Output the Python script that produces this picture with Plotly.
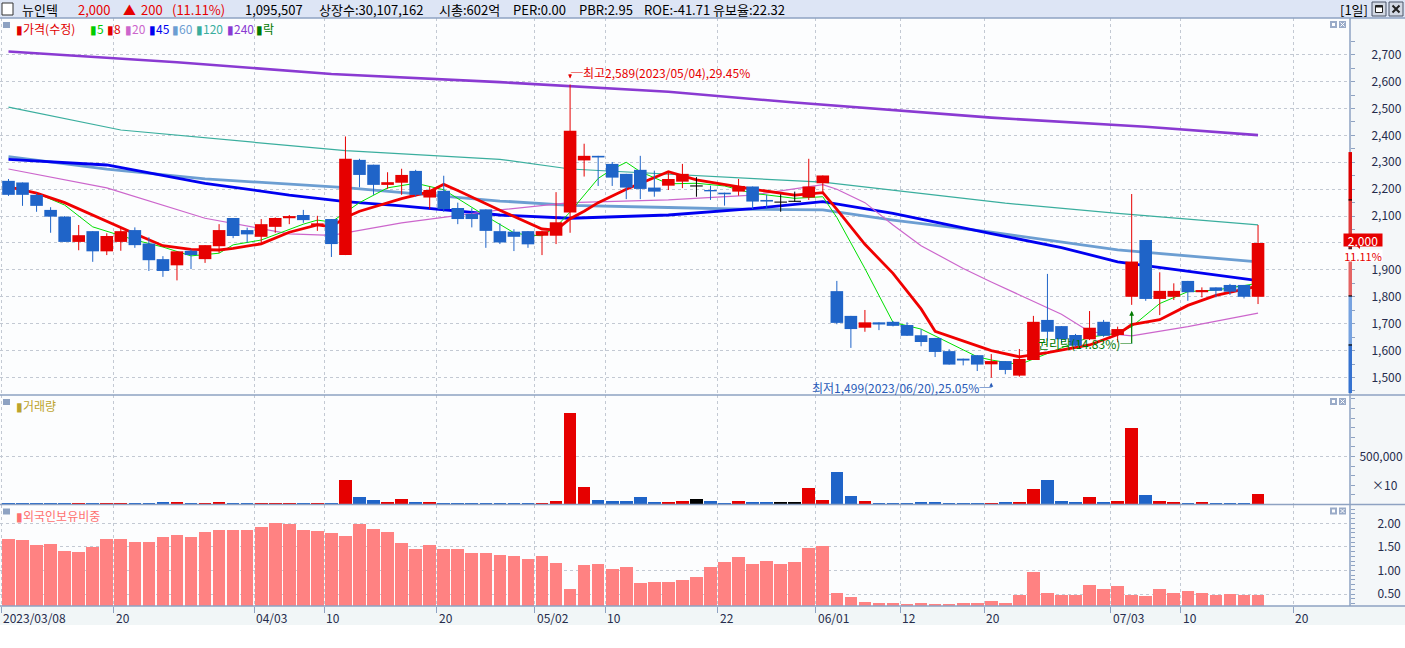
import pandas as pd
import plotly.graph_objects as go
from plotly.subplots import make_subplots

# 거래일 (휴장일 제외)
holidays = ["2023-05-01", "2023-05-05", "2023-05-29", "2023-06-06"]
dates = [d for d in pd.bdate_range("2023-03-08", "2023-07-17").strftime("%Y-%m-%d") if d not in holidays]
future_dates = list(pd.bdate_range("2023-07-18", "2023-07-26").strftime("%Y-%m-%d"))
all_dates = dates + future_dates

# 일봉 (수정주가)
opens = [2231, 2225, 2179, 2123, 2098, 2004, 2044, 1969, 2004, 2048,
         1998, 1940, 1917, 1971, 1940, 1988, 2093, 2048, 2023, 2060,
         2092, 2104, 2064, 2089, 1955, 2309, 2291, 2216, 2224, 2268,
         2169, 2194, 2130, 2108, 2125, 2044, 2042, 2044, 2027, 2027,
         2113, 2307, 2324, 2294, 2257, 2272, 2206, 2213, 2228, 2212,
         2197, 2187, 2191, 2210, 2160, 2152, 2155, 2169, 2222, 1821,
         1729, 1685, 1705, 1707, 1695, 1657, 1647, 1598, 1570, 1583,
         1549, 1561, 1507, 1565, 1714, 1691, 1658, 1642, 1707, 1658,
         1800, 2011, 1792, 1800, 1859, 1817, 1835, 1844, 1844, 1800]
highs = [2238, 2225, 2185, 2133, 2100, 2067, 2044, 2036, 2058, 2058,
         2021, 1951, 1969, 1976, 1992, 2070, 2093, 2057, 2089, 2095,
         2104, 2123, 2101, 2089, 2396, 2313, 2291, 2263, 2276, 2272,
         2210, 2250, 2150, 2129, 2125, 2073, 2051, 2044, 2044, 2189,
         2589, 2369, 2324, 2301, 2257, 2324, 2269, 2260, 2294, 2245,
         2213, 2187, 2238, 2210, 2179, 2181, 2191, 2313, 2251, 1859,
         1729, 1751, 1705, 1710, 1705, 1679, 1647, 1605, 1570, 1583,
         1587, 1561, 1606, 1729, 1885, 1691, 1662, 1747, 1714, 1689,
         2182, 2011, 1891, 1850, 1859, 1835, 1835, 1848, 1844, 2067]
lows = [2175, 2138, 2116, 2038, 2004, 1973, 1930, 1955, 1971, 1982,
        1896, 1874, 1861, 1903, 1926, 1963, 2018, 2001, 2001, 2038,
        2070, 2075, 2045, 1948, 1955, 2207, 2179, 2201, 2179, 2172,
        2126, 2116, 2070, 2058, 1982, 1996, 1970, 1982, 1955, 1996,
        2038, 2247, 2212, 2212, 2163, 2163, 2172, 2197, 2204, 2172,
        2160, 2139, 2176, 2126, 2126, 2116, 2154, 2160, 2185, 1698,
        1610, 1670, 1676, 1690, 1655, 1616, 1576, 1548, 1545, 1524,
        1499, 1512, 1503, 1565, 1637, 1628, 1614, 1639, 1651, 1631,
        1770, 1785, 1732, 1788, 1785, 1798, 1798, 1807, 1794, 1773]
closes = [2179, 2179, 2138, 2098, 2004, 2029, 1969, 2026, 2044, 1992,
          1936, 1896, 1969, 1955, 1992, 2048, 2026, 2032, 2070, 2093,
          2100, 2085, 2073, 1996, 2313, 2253, 2216, 2226, 2253, 2179,
          2197, 2126, 2089, 2089, 2045, 2002, 2023, 1995, 2044, 2077,
          2417, 2324, 2318, 2243, 2206, 2201, 2191, 2238, 2257, 2212,
          2192, 2181, 2212, 2154, 2154, 2152, 2155, 2210, 2251, 1703,
          1680, 1705, 1697, 1692, 1655, 1632, 1595, 1548, 1563, 1548,
          1561, 1528, 1569, 1707, 1670, 1642, 1618, 1685, 1655, 1680,
          1931, 1792, 1822, 1822, 1817, 1825, 1822, 1819, 1800, 2000]

# 거래량 (주)
volumes = [90000, 80000, 100000, 85000, 95000, 110000, 200000, 120000, 110000, 90000,
           190000, 210000, 220000, 100000, 120000, 230000, 90000, 80000, 110000, 100000,
           120000, 90000, 100000, 130000, 2530000, 740000, 420000, 210000, 530000, 220000,
           230000, 200000, 120000, 110000, 190000, 100000, 90000, 110000, 130000, 400000,
           9480000, 1790000, 520000, 330000, 380000, 810000, 300000, 210000, 320000, 600000,
           400000, 200000, 320000, 300000, 210000, 310000, 220000, 1680000, 420000, 3370000,
           850000, 410000, 120000, 190000, 200000, 210000, 280000, 200000, 110000, 130000,
           200000, 290000, 300000, 1580000, 2530000, 320000, 210000, 820000, 220000, 400000,
           7950000, 950000, 390000, 210000, 200000, 220000, 120000, 110000, 130000, 1095507]

# 외국인보유비중 (%)
foreign_ratio = [1.67, 1.65, 1.54, 1.58, 1.43, 1.41, 1.50, 1.67, 1.67, 1.62,
                 1.62, 1.71, 1.77, 1.71, 1.82, 1.86, 1.86, 1.86, 1.94, 2.01,
                 1.99, 1.86, 1.84, 1.80, 1.75, 1.99, 1.88, 1.82, 1.60, 1.46,
                 1.56, 1.46, 1.46, 1.39, 1.39, 1.33, 1.31, 1.26, 1.31, 1.16,
                 0.61, 1.12, 1.14, 1.05, 1.09, 0.74, 0.76, 0.76, 0.80, 0.88,
                 1.09, 1.20, 1.29, 1.14, 1.22, 1.14, 1.20, 1.48, 1.52, 0.54,
                 0.44, 0.35, 0.33, 0.33, 0.29, 0.31, 0.29, 0.29, 0.31, 0.33,
                 0.37, 0.31, 0.48, 0.97, 0.54, 0.50, 0.50, 0.71, 0.61, 0.69,
                 0.50, 0.46, 0.61, 0.54, 0.58, 0.54, 0.50, 0.52, 0.50, 0.50]

# 이동평균선 (차트에서 읽은 값, 봉 번호 / 값)
ma5_x = [0, 2, 4, 6, 9, 11, 13, 15, 16, 18, 21, 22, 23, 25, 27, 29, 31, 32, 34, 36, 37, 38, 39, 40, 42,
         43, 44, 45, 47, 49, 51, 53, 56, 58, 59, 61, 63, 65, 67, 69, 70, 72, 75, 77, 79, 80, 82, 84, 86, 89]
ma5 = [2212, 2185, 2141, 2060, 2011, 1985, 1952, 1962, 1993, 2011, 2070, 2085, 2078, 2150, 2205, 2222, 2198,
       2165, 2100, 2038, 2029, 2027, 2060, 2115, 2240, 2274, 2300, 2265, 2220, 2222, 2212, 2185, 2166, 2172,
       2095, 1905, 1705, 1680, 1630, 1577, 1565, 1548, 1610, 1650, 1664, 1689, 1775, 1819, 1825, 1850]
ma8_x = [0, 2, 4, 7, 9, 11, 13, 15, 16, 18, 20, 22, 23, 24, 25, 28, 30, 31, 32, 35, 37, 38, 39, 40, 41,
         42, 44, 47, 49, 51, 53, 56, 57, 58, 59, 61, 63, 65, 66, 68, 70, 72, 74, 77, 79, 80, 82, 84, 86, 89]
ma8 = [2209, 2185, 2150, 2080, 2034, 1990, 1976, 1974, 1980, 1997, 2040, 2067, 2060, 2095, 2118, 2165, 2191,
       2218, 2195, 2122, 2075, 2052, 2048, 2090, 2118, 2150, 2200, 2265, 2235, 2218, 2200, 2178, 2183, 2187,
       2125, 1995, 1887, 1755, 1672, 1635, 1600, 1577, 1592, 1621, 1660, 1697, 1715, 1768, 1805, 1840]
ma20_x = [0, 7, 14, 20, 23, 28, 35, 40, 47, 53, 58, 59, 61, 63, 65, 68, 70, 75, 77, 80, 84, 89]
ma20 = [2275, 2205, 2092, 2034, 2028, 2075, 2123, 2150, 2160, 2178, 2217, 2200, 2150, 2067, 1990, 1905, 1855,
        1735, 1670, 1655, 1689, 1739]
ma45_x = [0, 7, 14, 20, 24, 28, 35, 40, 47, 53, 58, 63, 70, 75, 79, 89]
ma45 = [2311, 2290, 2222, 2178, 2154, 2138, 2104, 2092, 2104, 2128, 2154, 2110, 2035, 1983, 1930, 1860]
ma60_x = [0, 7, 14, 20, 24, 35, 40, 47, 53, 58, 63, 70, 79, 89]
ma60 = [2321, 2275, 2238, 2220, 2206, 2156, 2140, 2132, 2125, 2123, 2085, 2040, 1974, 1930]
ma120_x = [0, 8, 24, 35, 40, 47, 58, 71, 79, 89]
ma120 = [2505, 2420, 2343, 2311, 2275, 2256, 2226, 2148, 2110, 2067]
ma240_x = [0, 12, 23, 35, 47, 56, 70, 81, 89]
ma240 = [2712, 2672, 2628, 2598, 2562, 2522, 2466, 2432, 2401]

# 권리락
ex_rights_date = "2023-07-04"
ex_rights_pct = 14.83

# x축 눈금
tick_dates = ["2023-03-08", "2023-03-20", "2023-04-03", "2023-04-10", "2023-04-20", "2023-05-02", "2023-05-10",
              "2023-05-22", "2023-06-01", "2023-06-12", "2023-06-20", "2023-07-03", "2023-07-10", "2023-07-20"]
tick_text = ["2023/03/08", "20", "04/03", "10", "20", "05/02", "10", "22", "06/01", "12", "20", "07/03", "10", "20"]

# 가격축 옆 구간 막대
band_edges = [2338, 2160, 1981, 1803, 1621, 1442]
band_colors = ["#dc0000", "#e03a3a", "#e46464", "#76a2e0", "#3572d0"]

RED = "#e60000"
BLUE = "#1f64c8"
BLACK = "#000000"
FONT = "Noto Sans CJK KR"
AXIS = "#8ea2c2"
GRID = "#c3c9d3"
TXT = "#262c4c"

W, H = 1405, 648
ML, MR, MT, MB = 0, 55, 18, 42
PW, PH = W - ML - MR, H - MT - MB


def px(x):
    return (x - ML) / PW


def py(y):
    return (H - MB - y) / PH


idx = list(range(len(dates)))
colors = [RED if c > o else BLUE if c < o else BLACK for o, c in zip(opens, closes)]
last, prev = closes[-1], closes[-2]
chg = last - prev

fig = make_subplots(rows=3, cols=1, shared_xaxes=True, vertical_spacing=0)

# 이동평균선
ma_lines = [(ma240_x, ma240, "#8a3ad2", 2.6), (ma120_x, ma120, "#3aae9e", 1.2),
            (ma60_x, ma60, "#6c9ed2", 2.8), (ma45_x, ma45, "#0000f0", 2.8),
            (ma20_x, ma20, "#cc66cc", 1.2), (ma5_x, ma5, "#00e000", 1.0),
            (ma8_x, ma8, "#f00000", 2.8)]
for xs, ys, col, w in ma_lines:
    fig.add_trace(go.Scatter(x=xs, y=ys, mode="lines", line=dict(color=col, width=w)), row=1, col=1)

# 캔들: 꼬리 -> 몸통
for col in (RED, BLUE, BLACK):
    wx, wy = [], []
    for i in idx:
        if colors[i] == col:
            wx += [i, i, None]
            wy += [lows[i], highs[i], None]
    fig.add_trace(go.Scatter(x=wx, y=wy, mode="lines", line=dict(color=col, width=1)), row=1, col=1)
for col in (RED, BLUE, BLACK):
    bx, by = [], []
    for i in idx:
        if colors[i] == col:
            top, bot = max(opens[i], closes[i]), min(opens[i], closes[i])
            if top - bot < 4:
                mid = (top + bot) / 2
                top, bot = mid + 2, mid - 2
            bx += [i, i, None]
            by += [bot, top, None]
    fig.add_trace(go.Scatter(x=bx, y=by, mode="lines", line=dict(color=col, width=12.6)), row=1, col=1)

# 거래량 (x10)
fig.add_trace(go.Bar(x=idx, y=[v / 10 for v in volumes], width=0.9,
                     marker=dict(color=colors, line=dict(width=0))), row=2, col=1)
# 외국인보유비중
fig.add_trace(go.Bar(x=idx, y=foreign_ratio, width=0.9,
                     marker=dict(color="#ff8282", line=dict(width=0))), row=3, col=1)

tick_pos = [all_dates.index(d) - 0.5 for d in tick_dates]
x_range = [-0.605, 95.55]

fig.update_layout(
    width=W, height=H, margin=dict(l=ML, r=MR, t=MT, b=MB),
    showlegend=False, hovermode=False, barmode="overlay", bargap=0,
    plot_bgcolor="#fcfdfe", paper_bgcolor="white",
    font=dict(family=FONT, size=12, color=TXT),
)
fig.update_xaxes(range=x_range, tickvals=tick_pos, showticklabels=False, showgrid=True,
                 gridcolor=GRID, griddash="dot", gridwidth=1, zeroline=False, showline=False, ticks="")
fig.update_xaxes(row=3, col=1, ticks="outside", ticklen=6, tickcolor=AXIS, tickwidth=1)

price_ticks = list(range(1500, 2701, 100))
fig.update_yaxes(side="right", showgrid=True, gridcolor=GRID, griddash="dot", gridwidth=1,
                 ticks="outside", ticklen=4, tickcolor=AXIS, zeroline=False, showline=False,
                 tickfont=dict(family=FONT, size=12, color=TXT))
fig.update_yaxes(row=1, col=1, domain=[py(395), 1], range=[1434.9, 2836.4],
                 tickvals=price_ticks,
                 ticktext=["" if v == last else f"{v:,}" for v in price_ticks],
                 ticklabelstandoff=14,
                 minor=dict(tickvals=list(range(1450, 2751, 100)), ticks="outside", ticklen=4,
                            tickcolor=AXIS, showgrid=False))
fig.update_yaxes(row=2, col=1, domain=[py(504.5), py(395)], range=[0, 1140625],
                 tickvals=[500000], tickformat=",d", ticklabelstandoff=2,
                 minor=dict(tickmode="linear", tick0=0, dtick=100000, ticks="outside", ticklen=4,
                            tickcolor=AXIS, showgrid=False))
fig.update_yaxes(row=3, col=1, domain=[0, py(504.5)], range=[0.2454, 2.399],
                 tickvals=[0.5, 1.0, 1.5, 2.0], tickformat=".2f", ticklabelstandoff=20,
                 minor=dict(tickmode="linear", tick0=0, dtick=0.1, ticks="outside", ticklen=4,
                            tickcolor=AXIS, showgrid=False))

shapes = []
ann = []
XR = px(W)

# 배경 영역
shapes.append(dict(type="rect", xref="paper", yref="paper", x0=1, x1=XR, y0=0, y1=1,
                   fillcolor="#f4f7f9", line_width=0, layer="below"))
shapes.append(dict(type="rect", xref="paper", yref="paper", x0=0, x1=XR, y0=py(625), y1=0,
                   fillcolor="#f1f6f7", line_width=0, layer="below"))
shapes.append(dict(type="rect", xref="paper", yref="paper", x0=0, x1=XR, y0=1, y1=py(0),
                   fillcolor="#dde5f5", line_width=0))
for yy in (py(18), py(395), py(504.5), 0):
    shapes.append(dict(type="line", xref="paper", yref="paper", x0=0, x1=XR, y0=yy, y1=yy,
                       line=dict(color=AXIS, width=1.5)))
shapes.append(dict(type="line", xref="paper", yref="paper", x0=1, x1=1, y0=0, y1=1,
                   line=dict(color=AXIS, width=1.5)))

# 가격축 구간 막대
for k, col in enumerate(band_colors):
    shapes.append(dict(type="rect", xref="paper", yref="y", x0=px(1348.5), x1=px(1352),
                       y0=band_edges[k + 1], y1=band_edges[k], fillcolor=col, line_width=0))
for e in band_edges[1:-1]:
    shapes.append(dict(type="line", xref="paper", yref="y", x0=px(1348.5), x1=px(1352), y0=e, y1=e,
                       line=dict(color="black", width=1.2)))

# 헤더
shapes.append(dict(type="rect", xref="paper", yref="paper", x0=px(2), x1=px(13), y0=py(15), y1=py(3),
                   fillcolor="white", line=dict(color="#333333", width=1)))
header = [
    (20, "뉴인텍", "black"),
    (76, f"{last:,}", RED),
    (121, "▲", RED),
    (139, f"{chg:,}", RED),
    (170, f"({chg / prev * 100:.2f}%)", RED),
    (243, f"{volumes[-1]:,}", "black"),
    (317, "상장수:30,107,162", "black"),
    (437, "시총:602억", "black"),
    (511, "PER:0.00", "black"),
    (577, "PBR:2.95", "black"),
    (642, "ROE:-41.71", "black"),
    (711, "유보율:22.32", "black"),
    (1338, "[1일]", "black"),
]
for x0, t, c in header:
    ann.append(dict(xref="paper", yref="paper", x=px(x0), y=py(9.5), xanchor="left", yanchor="middle",
                    text=t, showarrow=False, font=dict(size=13, color=c, family=FONT)))
# 창 버튼 (최대화 / 닫기)
for bx0 in (1372, 1389):
    shapes.append(dict(type="rect", xref="paper", yref="paper", x0=px(bx0), x1=px(bx0 + 14),
                       y0=py(16), y1=py(2), fillcolor="#d3d9e4", line=dict(color="#4a5468", width=1)))
shapes.append(dict(type="rect", xref="paper", yref="paper", x0=px(1375.5), x1=px(1382.5),
                   y0=py(12.5), y1=py(5.5), fillcolor="white", line=dict(color="#222222", width=1)))
shapes.append(dict(type="line", xref="paper", yref="paper", x0=px(1375.5), x1=px(1382.5),
                   y0=py(6.5), y1=py(6.5), line=dict(color="#222222", width=2)))
shapes.append(dict(type="path", xref="paper", yref="paper",
                   path=f"M{px(1392.5)},{py(5.5)} L{px(1399.5)},{py(12.5)} "
                        f"M{px(1399.5)},{py(5.5)} L{px(1392.5)},{py(12.5)}",
                   line=dict(color="#222222", width=2)))

# 패널 범례와 버튼
legend_items = [
    (18, [(14, "▮가격(수정)", "#e00000"), (88, "▮5", "#00cc00"), (105, "▮8", "#e00000"),
          (123, "▮20", "#cc66cc"), (147, "▮45", "#0000f0"), (170, "▮60", "#6c9ed2"),
          (194, "▮120", "#3aae9e"), (225, "▮240", "#8a3ad2"), (254, "▮락", "#007a00")]),
    (395, [(14, "▮거래량", "#bca42c")]),
    (504.5, [(14, "▮외국인보유비중", "#ff7070")]),
]
for top, items in legend_items:
    shapes.append(dict(type="rect", xref="paper", yref="paper", x0=px(3), x1=px(10),
                       y0=py(top + 10), y1=py(top + 4), fillcolor="#8ea2c2", line_width=0))
    for x0, t, c in items:
        ann.append(dict(xref="paper", yref="paper", x=px(x0), y=py(top + 10.5), xanchor="left",
                        yanchor="middle", text=t, showarrow=False, font=dict(size=12, color=c)))
    for bx0 in (1330, 1339):
        shapes.append(dict(type="rect", xref="paper", yref="paper", x0=px(bx0), x1=px(bx0 + 7),
                           y0=py(top + 10), y1=py(top + 3), fillcolor="#9aabc8", line_width=0))
    shapes.append(dict(type="rect", xref="paper", yref="paper", x0=px(1332), x1=px(1335),
                       y0=py(top + 8), y1=py(top + 5), fillcolor="white", line_width=0))
    shapes.append(dict(type="path", xref="paper", yref="paper",
                       path=f"M{px(1340.5)},{py(top + 4.5)} L{px(1344.5)},{py(top + 8.5)} "
                            f"M{px(1344.5)},{py(top + 4.5)} L{px(1340.5)},{py(top + 8.5)}",
                       line=dict(color="white", width=1)))

# 현재가 표시
shapes.append(dict(type="path", xref="paper", yref="y",
                   path=f"M{px(1353)},{last} L{px(1360)},{last + 22} L{px(1360)},{last - 22} Z",
                   fillcolor=RED, line_width=0))
ann.append(dict(xref="paper", yref="y", x=px(1383), y=last, yshift=3, text=f"{last:,}", showarrow=False,
                bgcolor=RED, font=dict(size=12, color="white"), width=38, height=12, borderpad=0))
ann.append(dict(xref="paper", yref="y", x=px(1383), y=last, yshift=-13, text=f"{chg / prev * 100:.2f}%",
                showarrow=False, bgcolor="white", font=dict(size=11, color=RED), width=38, height=11,
                borderpad=0))
ann.append(dict(xref="paper", yref="paper", x=px(1400), y=py(495), xanchor="right", text="×10",
                showarrow=False, font=dict(size=12, color=TXT)))

# 최고 / 최저
hi_i = highs.index(max(highs))
lo_i = lows.index(min(lows))
hi_txt = f"─최고{highs[hi_i]:,}({dates[hi_i].replace('-', '/')}),{(highs[hi_i] / last - 1) * 100:.2f}%"
lo_txt = f"최저{lows[lo_i]:,}({dates[lo_i].replace('-', '/')}),{(1 - lows[lo_i] / last) * 100:.2f}%─"
ann.append(dict(x=hi_i, y=highs[hi_i], xref="x", yref="y", text="", showarrow=True, ax=0, ay=-12,
                arrowhead=2, arrowsize=0.8, arrowwidth=1, arrowcolor=RED, standoff=6))
ann.append(dict(x=hi_i, y=highs[hi_i], xref="x", yref="y", text=hi_txt, showarrow=False, xanchor="left",
                yanchor="middle", xshift=-1, yshift=12, font=dict(size=12, color=RED)))
ann.append(dict(x=lo_i, y=lows[lo_i], xref="x", yref="y", text="", showarrow=True, ax=0, ay=11,
                arrowhead=2, arrowsize=0.8, arrowwidth=1, arrowcolor="#2a5cb8", standoff=5))
ann.append(dict(x=lo_i, y=lows[lo_i], xref="x", yref="y", text=lo_txt, showarrow=False, xanchor="right",
                yanchor="middle", xshift=2, yshift=-10, font=dict(size=12, color="#2a5cb8")))

# 권리락
er_i = dates.index(ex_rights_date)
ann.append(dict(x=er_i, y=lows[er_i], xref="x", yref="y", text="", showarrow=True, ax=0, ay=40,
                arrowhead=2, arrowsize=0.8, arrowwidth=1.2, arrowcolor="#007a00", standoff=6))
ann.append(dict(x=er_i, y=lows[er_i], xref="x", yref="y", text=f"권리락({ex_rights_pct:.2f}%)─",
                showarrow=False, xanchor="right", yanchor="middle", xshift=2, yshift=-39,
                font=dict(size=12, color="#007a00")))

# x축 날짜
for p, t in zip(tick_pos, tick_text):
    ann.append(dict(x=p, y=py(617), xref="x3", yref="paper", text=t, showarrow=False, xanchor="left",
                    yanchor="middle", xshift=0, font=dict(size=12, color=TXT)))

fig.update_layout(shapes=shapes, annotations=ann)

fig.write_html("out.html", config={"displayModeBar": False},
               post_script="document.body.style.margin='0px';")
